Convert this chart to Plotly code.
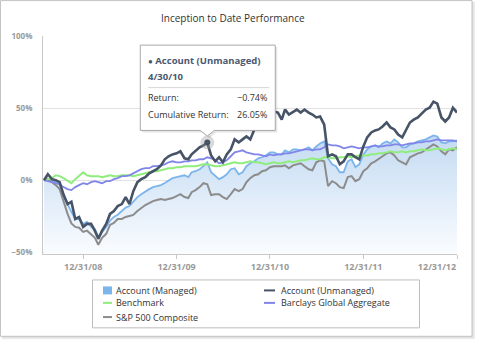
import plotly.graph_objects as go

# ---------------- data (cumulative return %) ----------------
# month-end observations
month_end_dates = [
    "2008-07-31", "2008-08-31", "2008-09-30", "2008-10-31", "2008-11-30", "2008-12-31",
    "2009-01-31", "2009-02-28", "2009-03-31", "2009-04-30", "2009-05-31", "2009-06-30",
    "2009-07-31", "2009-08-31", "2009-09-30", "2009-10-31", "2009-11-30", "2009-12-31",
    "2010-01-31", "2010-02-28", "2010-03-31", "2010-04-30", "2010-05-31", "2010-06-30",
    "2010-07-31", "2010-08-31", "2010-09-30", "2010-10-31", "2010-11-30", "2010-12-31",
    "2011-01-31", "2011-02-28", "2011-03-31", "2011-04-30", "2011-05-31", "2011-06-30",
    "2011-07-31", "2011-08-31", "2011-09-30", "2011-10-31", "2011-11-30", "2011-12-31",
    "2012-01-31", "2012-02-29", "2012-03-31", "2012-04-30", "2012-05-31", "2012-06-30",
    "2012-07-31", "2012-08-31", "2012-09-30", "2012-10-31", "2012-11-30", "2012-12-31",
]
# mid-month observations
mid_month_dates = [
    "2008-08-15", "2008-09-15", "2008-10-15", "2008-11-15", "2008-12-15",
    "2009-01-15", "2009-02-15", "2009-03-15", "2009-04-15", "2009-05-15", "2009-06-15",
    "2009-07-15", "2009-08-15", "2009-09-15", "2009-10-15", "2009-11-15", "2009-12-15",
    "2010-01-15", "2010-02-15", "2010-03-15", "2010-04-15", "2010-05-15", "2010-06-15",
    "2010-07-15", "2010-08-15", "2010-09-15", "2010-10-15", "2010-11-15", "2010-12-15",
    "2011-01-15", "2011-02-15", "2011-03-15", "2011-04-15", "2011-05-15", "2011-06-15",
    "2011-07-15", "2011-08-15", "2011-09-15", "2011-10-15", "2011-11-15", "2011-12-15",
    "2012-01-15", "2012-02-15", "2012-03-15", "2012-04-15", "2012-05-15", "2012-06-15",
    "2012-07-15", "2012-08-15", "2012-09-15", "2012-10-15", "2012-11-15", "2012-12-15",
]

managed_end = [
    0.0, -0.7, -2.8, -16.6, -26.9, -30.3,
    -32.4, -39.3, -32.4, -25.5, -21.4, -17.9, -11.7, -7.6, -4.8, -3.4, 0.0, 2.1,
    3.4, 5.5, 7.6, 12.4, 2.8, 2.1, 7.6, 4.1, 9.7, 13.1, 15.9, 19.3,
    17.9, 20.7, 21.4, 20.7, 22.8, 23.4, 26.9, 11.0, 5.5, 13.1, 9.0, 17.9,
    23.4, 22.8, 26.9, 28.3, 22.8, 24.8, 26.9, 28.3, 31.0, 26.2, 26.9, 27.6,
]
managed_mid = [
    1.0, -1.4, -10.0, -22.0, -27.0,
    -29.0, -34.0, -36.0, -28.0, -24.0, -19.0, -15.0, -9.7, -6.2, -4.1, -2.0, 1.4,
    2.8, 2.1, 6.2, 9.7, 5.5, 0.7, 4.1, 8.3, 5.5, 11.7, 15.2, 17.2,
    19.3, 17.9, 19.3, 21.4, 21.4, 20.7, 25.5, 15.2, 9.7, 5.5, 14.5, 11.0,
    21.4, 24.1, 25.5, 25.5, 26.2, 22.8, 25.5, 27.6, 29.7, 30.3, 25.5, 26.9,
]

unmanaged_end = [
    0.0, 0.7, -1.4, -16.6, -26.9, -32.4,
    -30.3, -40.7, -30.3, -21.4, -16.6, -16.6, -1.4, 2.1, 6.2, 10.3, 16.6, 18.6,
    15.2, 17.9, 22.8, 26.05, 13.1, 12.4, 21.4, 26.2, 30.3, 35.2, 38.6, 43.5,
    46.9, 49.0, 47.6, 46.9, 46.9, 43.5, 38.6, 17.9, 11.0, 17.9, 15.9, 23.4,
    33.1, 35.2, 40.0, 35.2, 29.7, 40.0, 43.5, 49.0, 54.5, 43.5, 43.5, 46.9,
]
unmanaged_mid = [
    4.1, 0.0, -10.0, -15.0, -25.5,
    -30.3, -35.2, -35.0, -23.4, -18.0, -11.7, -7.6, 0.7, 4.8, 7.6, 14.5, 17.9,
    20.0, 14.5, 20.0, 24.1, 17.2, 15.9, 17.9, 28.3, 28.3, 28.3, 37.9, 40.7,
    47.6, 42.0, 45.5, 49.0, 49.0, 45.5, 44.1, 16.6, 16.6, 13.1, 17.9, 14.5,
    29.7, 34.5, 37.2, 36.6, 31.7, 35.2, 42.0, 46.2, 50.3, 53.1, 40.7, 50.3,
]

benchmark_end = [
    0.0, 1.4, 2.8, -0.7, 0.7, 5.5,
    2.8, 2.8, 2.8, 2.8, 3.4, 3.4, 3.4, 4.8, 6.2, 6.9, 8.3, 9.0,
    9.7, 9.7, 10.3, 11.0, 9.7, 10.3, 11.7, 11.7, 12.4, 12.4, 11.7, 11.7,
    11.7, 12.4, 12.4, 13.8, 14.5, 14.5, 15.9, 15.2, 15.9, 16.6, 16.6, 17.2,
    17.9, 18.6, 19.3, 19.3, 20.0, 20.0, 20.7, 20.7, 21.4, 21.4, 21.4, 21.4,
]
benchmark_mid = [
    0.7, 3.4, 1.4, -2.1, 2.8,
    3.4, 2.8, 2.1, 3.4, 2.8, 3.4, 2.8, 4.1, 5.5, 6.2, 7.6, 8.3,
    9.0, 9.7, 9.7, 11.0, 10.3, 9.7, 11.0, 12.4, 11.7, 13.1, 12.4, 11.0,
    12.4, 11.7, 13.1, 13.1, 13.8, 15.2, 14.5, 15.9, 15.2, 15.9, 15.9, 17.2,
    17.2, 17.9, 18.6, 20.0, 19.3, 19.3, 20.0, 21.4, 20.7, 22.1, 20.7, 22.1,
]

barclays_end = [
    0.0, -1.4, -2.8, -6.2, -4.8, -2.1,
    -1.4, -1.4, -0.7, 0.7, 2.8, 3.4, 6.2, 8.3, 9.7, 10.3, 12.4, 12.4,
    13.1, 13.8, 14.5, 15.9, 13.8, 12.4, 16.6, 20.0, 19.3, 17.9, 17.2, 17.9,
    17.9, 18.6, 19.3, 20.7, 21.4, 21.4, 22.8, 24.1, 23.4, 22.8, 22.8, 22.8,
    23.4, 23.4, 24.1, 24.8, 24.1, 25.5, 26.2, 26.9, 27.6, 27.6, 27.6, 26.9,
]
barclays_mid = [
    -0.7, -2.1, -4.8, -6.9, -3.4,
    -2.8, -0.7, -2.1, -0.7, 1.4, 2.8, 4.8, 7.6, 8.3, 9.7, 11.0, 13.1,
    12.4, 13.1, 13.8, 14.5, 15.2, 11.7, 13.8, 19.3, 20.7, 18.6, 17.9, 16.6,
    17.2, 17.9, 18.6, 20.0, 21.4, 20.7, 21.4, 24.8, 24.1, 22.1, 23.4, 22.1,
    22.8, 24.1, 23.4, 24.1, 24.8, 24.8, 25.5, 26.2, 26.9, 28.3, 27.6, 27.6,
]

sp500_end = [
    0.0, -1.4, -6.2, -23.4, -32.4, -35.9,
    -37.9, -44.8, -37.2, -29.7, -26.9, -24.8, -21.4, -17.2, -14.5, -13.1, -13.1, -11.0,
    -11.7, -8.3, -4.8, -2.8, -9.7, -11.7, -9.7, -7.6, -1.4, 3.4, 6.2, 9.0,
    9.7, 10.3, 10.3, 11.7, 7.6, 12.4, 13.1, -0.7, -4.8, 2.1, -0.7, 6.2,
    11.7, 14.5, 18.6, 17.2, 12.4, 15.9, 18.6, 21.4, 24.8, 20.0, 21.4, 22.8,
]
sp500_mid = [
    0.7, -3.4, -15.0, -30.0, -33.0,
    -35.0, -40.0, -40.0, -31.0, -26.9, -25.5, -24.1, -19.3, -15.9, -13.8, -13.8, -12.4,
    -9.7, -12.4, -6.9, -2.1, -10.3, -9.7, -13.1, -6.2, -6.2, 1.4, 4.1, 6.9,
    9.7, 9.7, 8.3, 11.0, 9.7, 6.9, 13.8, -4.1, -2.1, -5.5, 2.8, 0.7,
    8.3, 13.1, 16.6, 19.3, 13.8, 11.0, 17.2, 19.3, 22.8, 23.4, 17.9, 20.7,
]

series_names = ["Account (Managed)", "Account (Unmanaged)", "Benchmark",
                "Barclays Global Aggregate", "S&P 500 Composite"]

x_tick_dates = ["2008-12-31", "2009-12-31", "2010-12-31", "2011-12-31"]
x_tick_labels = ["12/31/08", "12/31/09", "12/31/10", "12/31/11"]
x_last_tick_date = "2012-12-31"
x_last_tick_label = "12/31/12"
y_tick_vals = [-50, 0, 50, 100]
y_tick_labels = ["\u221250%", "0%", "50%", "100%"]

tooltip_date = "2010-04-30"
tooltip_date_label = "4/30/10"
tooltip_return = "\u22120.74%"


def merge(end_vals, mid_vals):
    out = []
    for i, v in enumerate(end_vals):
        out.append(v)
        if i < len(mid_vals):
            out.append(mid_vals[i])
    return out


dates = merge(month_end_dates, mid_month_dates)
account_managed = merge(managed_end, managed_mid)
account_unmanaged = merge(unmanaged_end, unmanaged_mid)
benchmark = merge(benchmark_end, benchmark_mid)
barclays = merge(barclays_end, barclays_mid)
sp500 = merge(sp500_end, sp500_mid)

# ---------------- styling ----------------
W, H = 481, 347
L, T, B = 43, 36, 254.5
PW = 414
PH = B - T
Y_MIN, Y_MAX = -51.2, 100
X_START, X_END = "2008-07-27", "2012-12-31"

C_MANAGED = "#7cb5ec"
C_UNMANAGED = "#475366"
C_BENCH = "#90ed7d"
C_BARC = "#8085e9"
C_SP = "#8c8c8c"
FONT = "Open Sans"


def fx(px):
    return (px - L) / PW


def fy(py):
    return (B - py) / PH


fig = go.Figure()

fig.add_trace(go.Scatter(x=dates, y=[Y_MIN] * len(dates), mode="lines",
                         line=dict(width=0, color="rgba(0,0,0,0)"),
                         hoverinfo="skip", showlegend=False))
fig.add_trace(go.Scatter(
    x=dates, y=account_managed, mode="lines", name=series_names[0],
    line=dict(color=C_MANAGED, width=1.8), fill="tonexty",
    fillgradient=dict(type="vertical", start=Y_MIN, stop=30,
                      colorscale=[[0, "rgba(250,252,255,1)"], [1, "#c4dbf2"]]),
    showlegend=False))
fig.add_trace(go.Scatter(x=dates, y=sp500, mode="lines", name=series_names[4],
                         line=dict(color=C_SP, width=2), showlegend=False))
fig.add_trace(go.Scatter(x=dates, y=benchmark, mode="lines", name=series_names[2],
                         line=dict(color=C_BENCH, width=2), showlegend=False))
fig.add_trace(go.Scatter(x=dates, y=barclays, mode="lines", name=series_names[3],
                         line=dict(color=C_BARC, width=1.8), showlegend=False))
fig.add_trace(go.Scatter(x=dates, y=account_unmanaged, mode="lines", name=series_names[1],
                         line=dict(color=C_UNMANAGED, width=2.6), showlegend=False))

idx = dates.index(tooltip_date)
tx, ty = dates[idx], account_unmanaged[idx]
fig.add_trace(go.Scatter(x=[tx], y=[ty], mode="markers", xaxis="x2",
                         marker=dict(size=14, color="rgba(150,150,150,0.35)"),
                         hoverinfo="skip", showlegend=False))
fig.add_trace(go.Scatter(x=[tx], y=[ty], mode="markers", xaxis="x2",
                         marker=dict(size=6, color=C_UNMANAGED),
                         hoverinfo="skip", showlegend=False))

shapes = []
shapes.append(dict(type="rect", xref="paper", yref="paper", layer="below",
                   x0=fx(2), x1=fx(475), y0=fy(340), y1=fy(2),
                   fillcolor="rgba(0,0,0,0.07)", line=dict(width=0)))
shapes.append(dict(type="rect", xref="paper", yref="paper", layer="below",
                   x0=fx(1), x1=fx(473.5), y0=fy(338.5), y1=fy(1),
                   fillcolor="rgba(0,0,0,0.06)", line=dict(width=0)))
shapes.append(dict(type="rect", xref="paper", yref="paper", layer="below",
                   x0=fx(0.5), x1=fx(472), y0=fy(337), y1=fy(0.5),
                   fillcolor="white", line=dict(color="#c4c4c4", width=1)))

callout = "M-67,97.5 L68,97.5 L68,12.2 L7,12.2 L0,6.5 L-7,12.2 L-67,12.2 Z"
shadow = "M-65,95.5 L70,95.5 L70,10.2 L9,10.2 L2,4.5 L-5,10.2 L-65,10.2 Z"
for p, fc, ln in [(shadow, "rgba(0,0,0,0.10)", dict(width=0)),
                  (callout, "rgba(255,255,255,1)", dict(color="#a8a8a8", width=1))]:
    shapes.append(dict(type="path", xref="x", yref="y", layer="above",
                       xsizemode="pixel", ysizemode="pixel", xanchor=tx, yanchor=ty,
                       path=p, fillcolor=fc, line=ln))
shapes.append(dict(type="line", xref="x", yref="y", layer="above",
                   xsizemode="pixel", ysizemode="pixel", xanchor=tx, yanchor=ty,
                   x0=-59, x1=62, y0=55, y1=55, line=dict(color="#d6d6d6", width=1)))

shapes.append(dict(type="rect", xref="paper", yref="paper",
                   x0=fx(92.5), x1=fx(419.5), y0=fy(328.5), y1=fy(280.5),
                   fillcolor="white", line=dict(color="#bdbdbd", width=1)))
legend_items = [
    (series_names[0], C_MANAGED, "square", 103, 112, 291.0, 114.0),
    (series_names[1], C_UNMANAGED, "line", 264, 275, 291.0, 278.5),
    (series_names[2], C_BENCH, "line", 103, 112, 303.5, 114.0),
    (series_names[3], C_BARC, "line", 264, 275, 303.5, 278.5),
    (series_names[4], C_SP, "line", 103, 112, 317.7, 114.0),
]
annotations = []
for name, col, kind, sx0, sx1, sy, tx0 in legend_items:
    if kind == "square":
        shapes.append(dict(type="rect", xref="paper", yref="paper",
                           x0=fx(sx0), x1=fx(sx1), y0=fy(sy + 4), y1=fy(sy - 4),
                           fillcolor=col, line=dict(width=0)))
    else:
        shapes.append(dict(type="line", xref="paper", yref="paper",
                           x0=fx(sx0), x1=fx(sx1), y0=fy(sy), y1=fy(sy),
                           line=dict(color=col, width=2)))
    annotations.append(dict(xref="paper", yref="paper", x=fx(tx0), y=fy(sy),
                            xanchor="left", yanchor="middle", showarrow=False,
                            text=name.replace("&", "&amp;"),
                            font=dict(family=FONT, size=9, color="#333333")))

annotations.append(dict(xref="paper", yref="paper", x=fx(233.3), y=fy(17.5),
                        xanchor="center", yanchor="middle", showarrow=False,
                        text="Inception to Date Performance",
                        font=dict(family=FONT, size=10, color="#333333")))

head_col = "#4a5870"
tip = [
    ("<span style='font-size:8px'>\u25cf</span> " + series_names[1], "left", -61, 81.7, True, head_col, 9.5),
    (tooltip_date_label, "left", -61, 65.7, True, head_col, 9.5),
    ("Return:", "left", -61.5, 44.7, False, "#333333", 9),
    (tooltip_return, "right", 62, 44.7, False, "#333333", 9),
    ("Cumulative Return:", "left", -61.5, 27.7, False, "#333333", 9),
    (f"{ty:.2f}%", "right", 62, 27.7, False, "#333333", 9),
]
for text, xa, xs, ys, bold, col, sz in tip:
    annotations.append(dict(xref="x", yref="y", x=tx, y=ty, xanchor=xa, yanchor="middle",
                            xshift=xs, yshift=ys, showarrow=False, text=text,
                            font=dict(family=FONT, size=sz, color=col,
                                      weight="bold" if bold else "normal")))

tick_font = dict(family=FONT, size=9, color="#9a9a9a", weight="bold")
fig.update_layout(
    width=W, height=H,
    margin=dict(l=L, r=W - L - PW, t=T, b=H - B),
    paper_bgcolor="white", plot_bgcolor="rgba(0,0,0,0)",
    showlegend=False, hovermode=False,
    font=dict(family=FONT, color="#333333"),
    xaxis=dict(type="date", range=[X_START, X_END], tickvals=x_tick_dates, ticktext=x_tick_labels,
               showgrid=False, zeroline=False, showline=True, linecolor="#c8c8c8", linewidth=1,
               ticks="outside", ticklen=4, tickcolor="#c8c8c8", tickfont=tick_font),
    xaxis2=dict(type="date", overlaying="x", matches="x", anchor="y", side="bottom",
                tickvals=[x_last_tick_date], ticktext=[x_last_tick_label],
                ticklabelshift=-20, showgrid=False, zeroline=False,
                showline=False, ticks="outside", ticklen=4, tickcolor="#c8c8c8",
                tickfont=tick_font),
    yaxis=dict(range=[Y_MIN, Y_MAX], tickvals=y_tick_vals, ticktext=y_tick_labels,
               showgrid=True, gridcolor="#e2e2e2", gridwidth=1, zeroline=False,
               showline=True, linecolor="#c8c8c8", linewidth=1, ticks="",
               ticklabelstandoff=8,
               tickfont=dict(family=FONT, size=8, color="#9a9a9a", weight="bold")),
    shapes=shapes, annotations=annotations,
)

fig.write_html("out.html")
